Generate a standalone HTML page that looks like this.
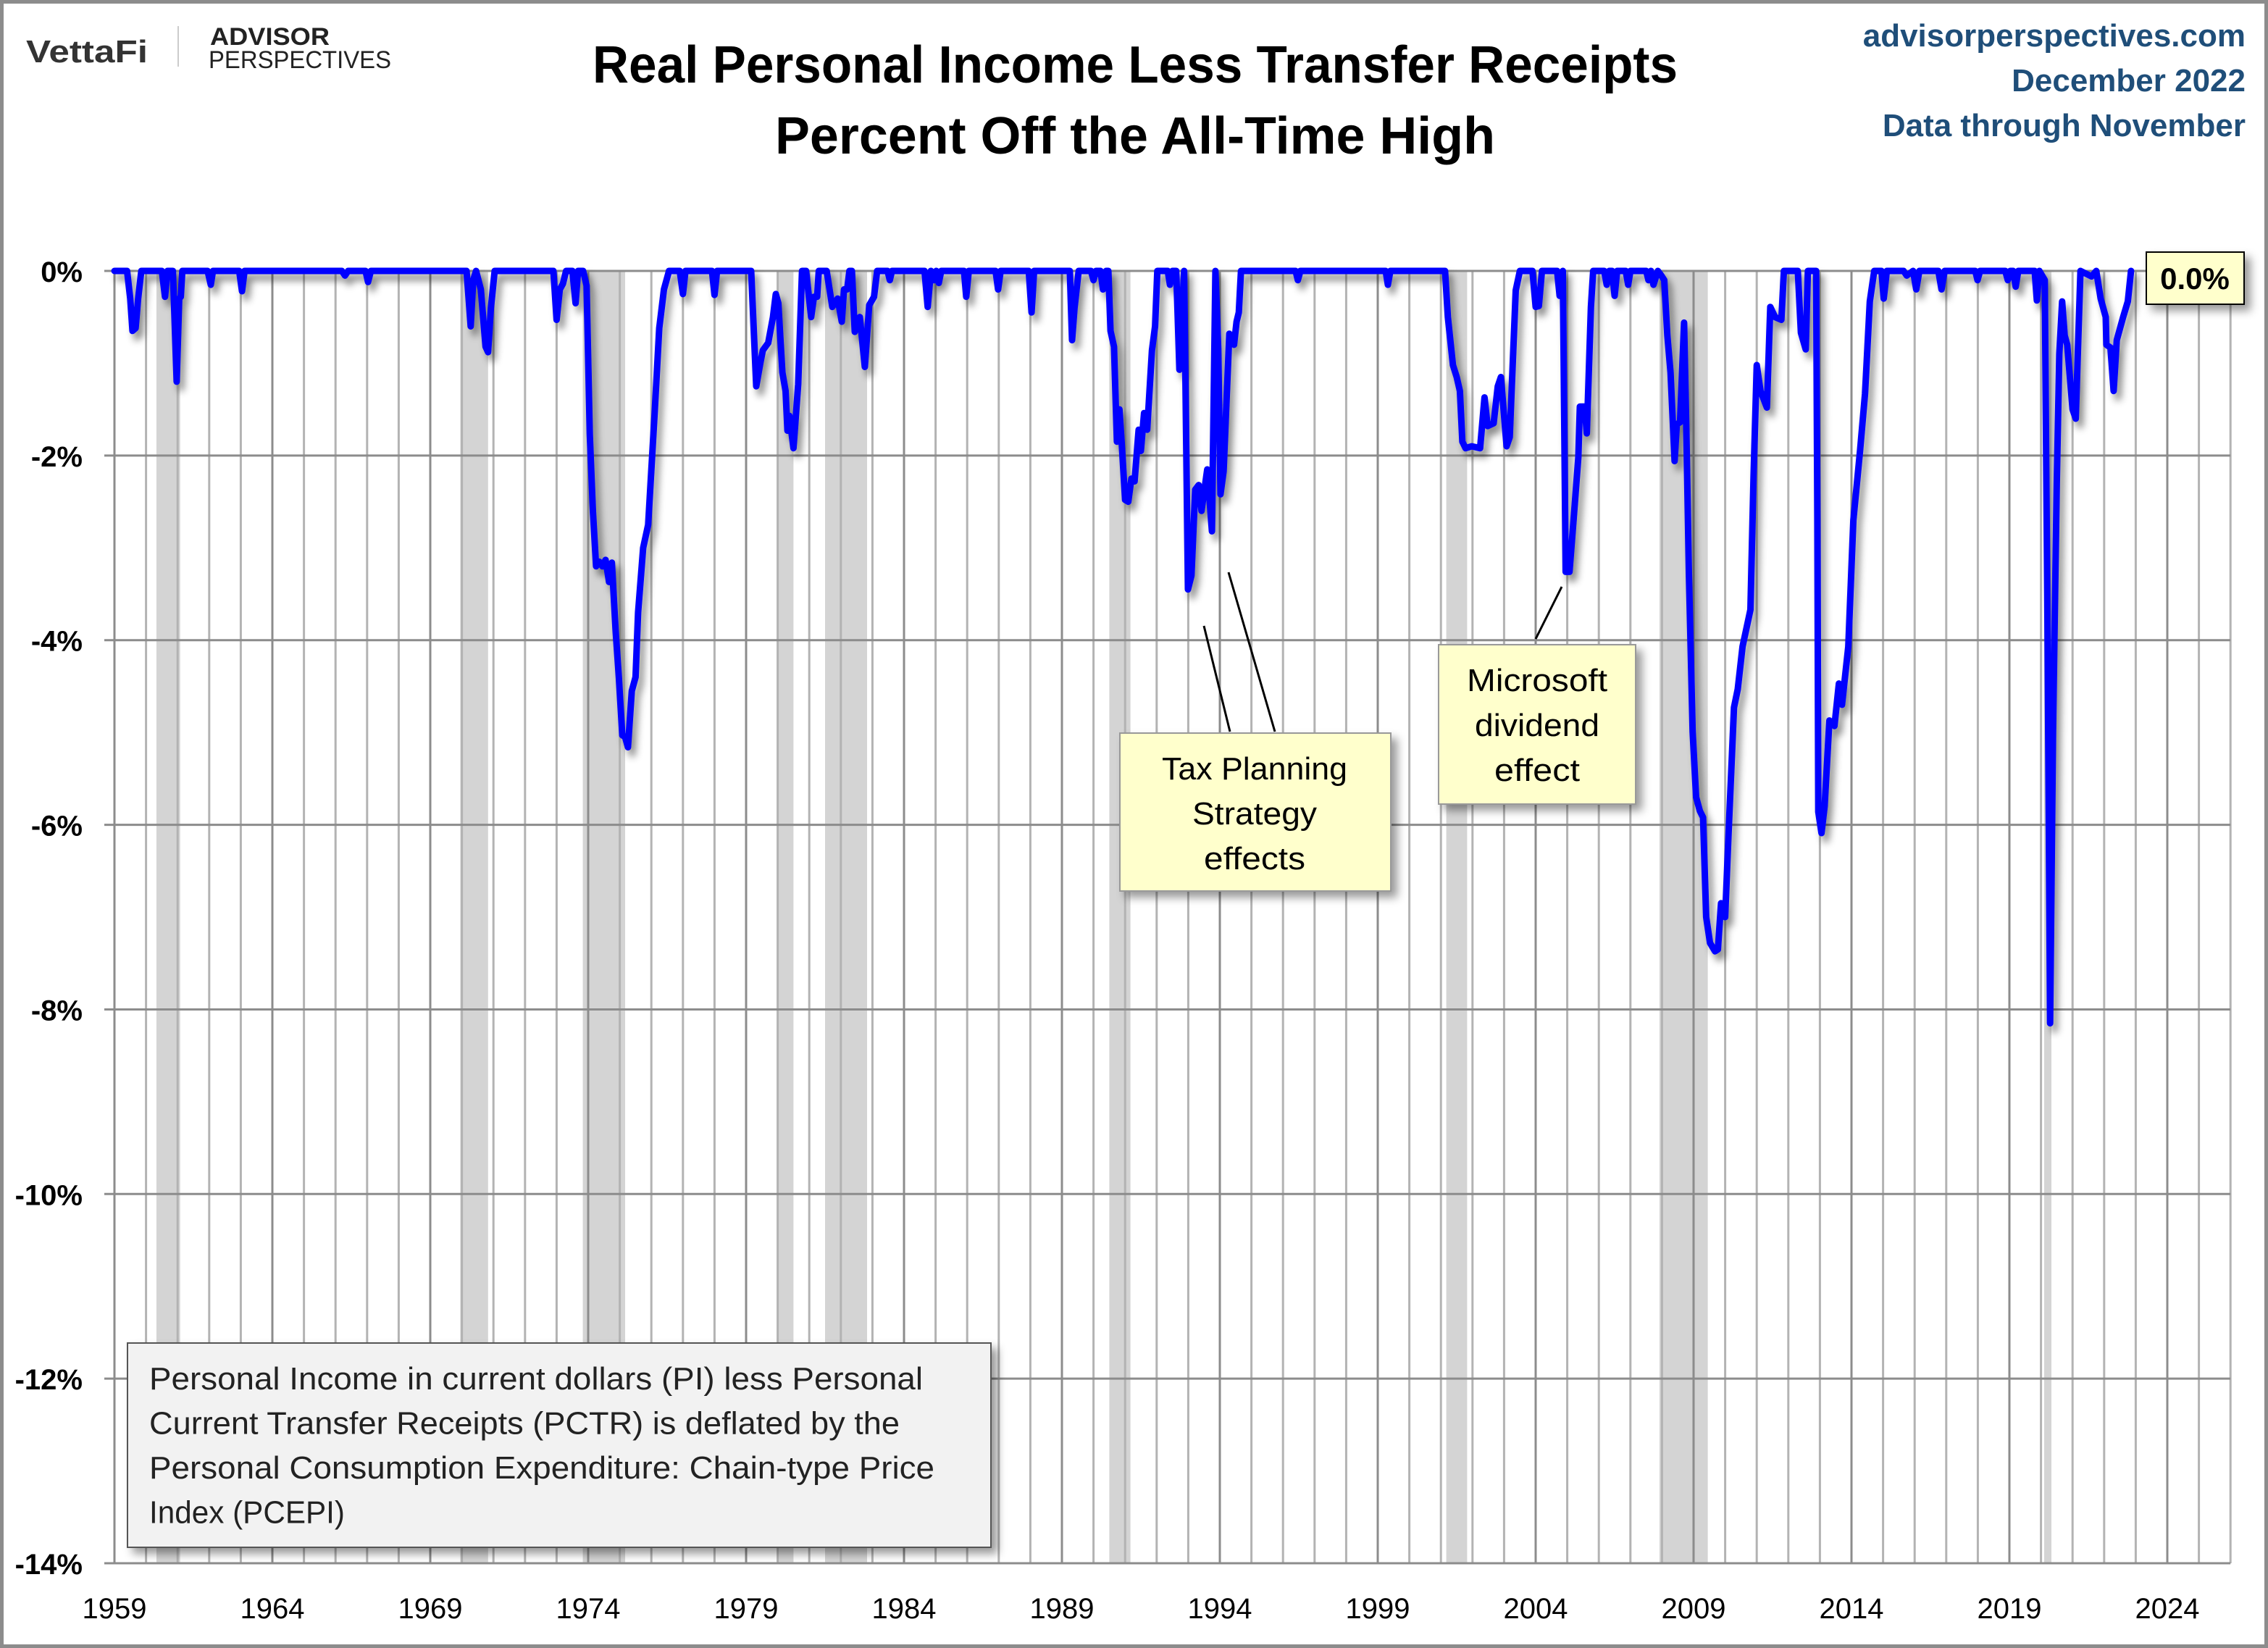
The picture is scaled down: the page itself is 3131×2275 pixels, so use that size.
<!DOCTYPE html>
<html><head><meta charset="utf-8"><style>
html,body{margin:0;padding:0;background:#fff}
svg{display:block}
text{font-family:"Liberation Sans",sans-serif}
</style></head><body>
<svg id="chart" width="3131" height="2275" viewBox="0 0 3131 2275" xmlns="http://www.w3.org/2000/svg">
<defs>
<filter id="sh" x="-10%" y="-10%" width="130%" height="130%"><feDropShadow dx="6" dy="9" stdDeviation="5" flood-color="#000" flood-opacity="0.45"/></filter>
<filter id="bsh" x="-10%" y="-10%" width="130%" height="140%"><feDropShadow dx="8" dy="8" stdDeviation="6" flood-color="#000" flood-opacity="0.4"/></filter>
</defs>
<rect x="2.5" y="2.5" width="3126" height="2270" fill="#fff" stroke="#8c8c8c" stroke-width="5"/>
<g id="plot"></g>
<g>
<text x="36" y="86" font-size="44" font-weight="bold" fill="#333" textLength="168" lengthAdjust="spacingAndGlyphs">VettaFi</text>
<line x1="246" y1="36" x2="246" y2="92" stroke="#ccc" stroke-width="2"/>
<text x="290" y="62" font-size="34" font-weight="bold" fill="#222" textLength="165" lengthAdjust="spacingAndGlyphs">ADVISOR</text>
<text x="288" y="94" font-size="34" fill="#222" textLength="252" lengthAdjust="spacingAndGlyphs">PERSPECTIVES</text>
</g>
<text x="818" y="114" font-size="72" font-weight="bold" fill="#000" textLength="1498" lengthAdjust="spacingAndGlyphs">Real Personal Income Less Transfer Receipts</text>
<text x="1070" y="212" font-size="72" font-weight="bold" fill="#000" textLength="994" lengthAdjust="spacingAndGlyphs">Percent Off the All-Time High</text>
<text x="3100" y="64" font-size="44" font-weight="bold" fill="#1f4e79" text-anchor="end">advisorperspectives.com</text>
<text x="3100" y="126" font-size="44" font-weight="bold" fill="#1f4e79" text-anchor="end">December 2022</text>
<text x="3100" y="188" font-size="44" font-weight="bold" fill="#1f4e79" text-anchor="end">Data through November</text>
</svg>
<script>
const years = [1959.0,1959.4,1959.5,1959.57,1959.67,1959.75,1959.85,1960.5,1960.6,1960.68,1960.85,1960.97,1961.05,1961.1,1961.15,1961.95,1962.05,1962.12,1962.95,1963.04,1963.12,1966.2,1966.3,1966.4,1966.95,1967.03,1967.12,1970.15,1970.28,1970.36,1970.45,1970.6,1970.75,1970.83,1970.92,1971.04,1972.9,1973.0,1973.1,1973.2,1973.3,1973.5,1973.6,1973.68,1973.84,1973.95,1974.05,1974.15,1974.25,1974.35,1974.45,1974.55,1974.66,1974.75,1974.87,1974.97,1975.08,1975.17,1975.26,1975.38,1975.5,1975.58,1975.74,1975.9,1976.1,1976.25,1976.4,1976.56,1976.9,1977.0,1977.08,1977.92,1978.0,1978.08,1979.16,1979.32,1979.45,1979.53,1979.7,1979.85,1979.94,1980.02,1980.15,1980.25,1980.31,1980.37,1980.5,1980.65,1980.77,1980.9,1981.06,1981.15,1981.25,1981.3,1981.55,1981.73,1981.9,1982.03,1982.1,1982.2,1982.27,1982.35,1982.44,1982.6,1982.76,1982.9,1983.05,1983.15,1983.48,1983.55,1983.62,1984.65,1984.75,1984.85,1984.95,1985.02,1985.1,1985.18,1985.9,1985.97,1986.05,1986.9,1986.98,1987.06,1987.95,1988.04,1988.12,1989.25,1989.32,1989.4,1989.53,1989.92,1990.0,1990.08,1990.22,1990.3,1990.4,1990.47,1990.54,1990.65,1990.74,1990.82,1990.9,1991.0,1991.1,1991.2,1991.3,1991.43,1991.5,1991.6,1991.7,1991.85,1991.95,1992.02,1992.35,1992.42,1992.5,1992.62,1992.72,1992.8,1992.87,1992.99,1993.1,1993.22,1993.33,1993.42,1993.6,1993.75,1993.86,1993.95,1994.02,1994.12,1994.3,1994.45,1994.53,1994.6,1994.67,1996.4,1996.47,1996.55,1999.25,1999.32,1999.4,2001.13,2001.22,2001.38,2001.5,2001.6,2001.68,2001.78,2001.98,2002.24,2002.38,2002.48,2002.67,2002.8,2002.9,2003.08,2003.18,2003.37,2003.5,2003.9,2004.0,2004.1,2004.2,2004.68,2004.76,2004.86,2004.95,2005.07,2005.2,2005.35,2005.4,2005.55,2005.62,2005.75,2005.82,2006.17,2006.25,2006.33,2006.42,2006.5,2006.58,2006.85,2006.93,2007.0,2007.5,2007.57,2007.65,2007.73,2007.87,2007.98,2008.07,2008.17,2008.27,2008.4,2008.47,2008.57,2008.7,2008.77,2008.85,2008.97,2009.08,2009.2,2009.3,2009.4,2009.52,2009.68,2009.77,2009.87,2010.0,2010.1,2010.28,2010.4,2010.55,2010.8,2010.9,2011.0,2011.12,2011.32,2011.43,2011.58,2011.78,2011.86,2012.3,2012.4,2012.55,2012.62,2012.88,2012.92,2012.95,2013.05,2013.15,2013.3,2013.46,2013.6,2013.7,2013.9,2014.06,2014.27,2014.43,2014.58,2014.72,2014.95,2015.02,2015.12,2015.65,2015.75,2015.95,2016.05,2016.15,2016.75,2016.85,2016.95,2017.92,2017.99,2018.07,2018.87,2018.95,2019.03,2019.12,2019.2,2019.28,2019.8,2019.87,2019.95,2020.12,2020.2,2020.29,2020.38,2020.5,2020.58,2020.67,2020.75,2020.83,2021.0,2021.1,2021.25,2021.6,2021.75,2021.89,2022.05,2022.07,2022.2,2022.3,2022.4,2022.6,2022.75,2022.85];
const values = [0,0,-0.3,-0.65,-0.62,-0.3,0,0,-0.28,0,0,-1.2,-0.3,-0.28,0,0,-0.15,0,0,-0.22,0,0,-0.05,0,0,-0.12,0,0,-0.6,-0.1,0,-0.2,-0.82,-0.88,-0.4,0,0,-0.53,-0.2,-0.14,0,0,-0.35,0,0,-0.16,-1.77,-2.6,-3.2,-3.15,-3.2,-3.13,-3.37,-3.16,-3.9,-4.4,-5.03,-5.05,-5.16,-4.55,-4.4,-3.7,-3.0,-2.75,-1.56,-0.62,-0.2,0,0,-0.25,0,0,-0.26,0,0,-1.25,-1.0,-0.86,-0.78,-0.5,-0.25,-0.35,-1.1,-1.3,-1.73,-1.57,-1.92,-1.23,0,0,-0.5,-0.28,-0.28,0,0,-0.39,-0.3,-0.55,-0.2,-0.2,0,0,-0.66,-0.5,-1.04,-0.37,-0.28,0,0,-0.1,0,0,-0.39,0,-0.1,0,-0.13,0,0,-0.28,0,0,-0.2,0,0,-0.45,0,0,-0.75,-0.4,0,0,-0.1,0,0,-0.2,0,0,-0.65,-0.82,-1.85,-1.5,-1.9,-2.48,-2.5,-2.25,-2.28,-1.72,-1.95,-1.54,-1.72,-0.86,-0.6,0,0,-0.15,0,0,-1.07,-0.47,0,-3.45,-3.3,-2.37,-2.32,-2.6,-2.15,-2.82,0,-0.85,-2.42,-2.17,-0.68,-0.8,-0.55,-0.45,0,0,-0.1,0,0,-0.15,0,0,-0.5,-1.02,-1.15,-1.3,-1.85,-1.92,-1.9,-1.92,-1.37,-1.68,-1.65,-1.25,-1.15,-1.9,-1.8,-0.21,0,0,-0.39,-0.38,0,0,-0.27,0,-3.26,-3.26,-2.7,-2.02,-1.47,-1.47,-1.76,-0.39,0,0,-0.15,0,0,-0.27,0,0,-0.15,0,0,-0.1,0,-0.15,0,-0.05,-0.1,-0.7,-1.1,-2.06,-1.66,-1.64,-0.56,-1.72,-3.27,-4.99,-5.7,-5.85,-5.92,-7.0,-7.28,-7.37,-7.35,-6.85,-7.0,-6.15,-4.73,-4.53,-4.07,-3.67,-2.23,-1.02,-1.3,-1.48,-0.39,-0.5,-0.53,0,0,-0.67,-0.85,0,0,-2.7,-5.86,-6.09,-5.8,-4.87,-4.93,-4.47,-4.7,-4.07,-2.7,-1.95,-1.33,-0.33,0,0,-0.3,0,0,-0.05,0,-0.2,0,0,-0.2,0,0,-0.1,0,0,-0.1,0,0,-0.17,0,0,-0.32,0,-0.1,-3.5,-8.15,-5.0,-2.3,-0.9,-0.33,-0.7,-0.8,-1.5,-1.6,0,-0.06,0,-0.3,-0.5,-0.8,-0.83,-1.3,-0.75,-0.5,-0.33,0];
const recessionStarts = [1960.33,1969.95,1973.83,1980.0,1981.5,1990.5,2001.17,2007.92,2020.1];
const recessionEnds = [1961.08,1970.83,1975.17,1980.5,1982.83,1991.17,2001.83,2009.45,2020.33];
const yTicks = [0,-2,-4,-6,-8,-10,-12,-14];
const xTickYears = [1959,1964,1969,1974,1979,1984,1989,1994,1999,2004,2009,2014,2019,2024];
const latestLabel = "0.0%";

const NS = "http://www.w3.org/2000/svg";
const X0 = 158, XPY = 43.6, Y0 = 374, YP = 127.43;
const xS = y => X0 + (y - 1959) * XPY;
const yS = v => Y0 - v * YP;
const plot = document.getElementById('plot');
const svg = document.getElementById('chart');
function mk(tag, attrs, parent) {
  const e = document.createElementNS(NS, tag);
  for (const k in attrs) e.setAttribute(k, attrs[k]);
  (parent || plot).appendChild(e);
  return e;
}
const PR = xS(2026), PB = yS(-14);
for (let i = 0; i < recessionStarts.length; i++) {
  const r = mk('rect', {x: xS(recessionStarts[i]), y: Y0, width: xS(recessionEnds[i]) - xS(recessionStarts[i]), height: PB - Y0, fill: '#d4d4d4'});
  
  
}
for (let yr = 1960; yr <= 2026; yr++) {
  const l = mk('line', {x1: xS(yr), x2: xS(yr), y1: Y0, y2: PB, stroke: (yr % 5 === 4) ? '#8c8c8c' : '#b3b3b3', 'stroke-width': 3});
  
  
}
yTicks.forEach(v => {
  const l = mk('line', {x1: X0 - 14, x2: PR, y1: yS(v), y2: yS(v), stroke: '#8c8c8c', 'stroke-width': 3});
  
  
  const t = mk('text', {x: 114, y: yS(v) + 15, 'font-size': 40, 'font-weight': 'bold', 'text-anchor': 'end', fill: '#000'});
  t.textContent = v + '%';
  
  
});
const ax = mk('line', {x1: X0, x2: X0, y1: Y0, y2: PB, stroke: '#8c8c8c', 'stroke-width': 3});


xTickYears.forEach(yr => {
  const t = mk('text', {x: xS(yr), y: 2234, 'font-size': 40, 'text-anchor': 'middle', fill: '#000'});
  t.textContent = yr;
  
  
});
let d = '';
for (let i = 0; i < years.length; i++) d += (i ? 'L' : 'M') + xS(years[i]).toFixed(1) + ' ' + yS(values[i]).toFixed(1);
const line = mk('path', {d: d, fill: 'none', stroke: '#0000ff', 'stroke-width': 9, 'stroke-linejoin': 'round', 'stroke-linecap': 'round', filter: 'url(#sh)'});



function box(x, y, w, h, fill, stroke, name) {
  const r = mk('rect', {x: x, y: y, width: w, height: h, fill: fill, stroke: stroke, 'stroke-width': 2, filter: 'url(#bsh)'}, svg);
  
  
}
function txt(x, y, s, size, anchor, name, extra) {
  const t = mk('text', Object.assign({x: x, y: y, 'font-size': size, 'text-anchor': anchor, fill: '#000'}, extra || {}), svg);
  t.textContent = s;
  t.setAttribute('xml:space', 'preserve');
  
  
}
function lead(x1, y1, x2, y2) {
  const l = mk('line', {x1: x1, y1: y1, x2: x2, y2: y2, stroke: '#000', 'stroke-width': 3}, svg);
  
  
}
lead(1698, 1010, 1662, 864);
lead(1760, 1010, 1696, 790);
lead(2120, 882, 2156, 810);
box(1546, 1012, 374, 218, '#ffffcc', '#999', 'tax-planning-annotation');
txt(1732, 1076, 'Tax Planning', 44, 'middle', 'tax-annotation-text', {textLength: 256, lengthAdjust: 'spacingAndGlyphs'});
txt(1732, 1138, 'Strategy', 44, 'middle', 'tax-annotation-text', {textLength: 172, lengthAdjust: 'spacingAndGlyphs'});
txt(1732, 1200, 'effects', 44, 'middle', 'tax-annotation-text', {textLength: 140, lengthAdjust: 'spacingAndGlyphs'});
box(1986, 890, 272, 220, '#ffffcc', '#999', 'microsoft-annotation');
txt(2122, 954, 'Microsoft', 44, 'middle', 'microsoft-annotation-text', {textLength: 194, lengthAdjust: 'spacingAndGlyphs'});
txt(2122, 1016, 'dividend', 44, 'middle', 'microsoft-annotation-text', {textLength: 172, lengthAdjust: 'spacingAndGlyphs'});
txt(2122, 1078, 'effect', 44, 'middle', 'microsoft-annotation-text', {textLength: 118, lengthAdjust: 'spacingAndGlyphs'});
box(176, 1854, 1192, 282, '#f2f2f2', '#555', 'methodology-note');
const notes = [['Personal Income in current dollars  (PI) less Personal', 1068], ['Current Transfer Receipts (PCTR) is deflated by the', 1036], ['Personal Consumption Expenditure: Chain-type Price', 1084], ['Index (PCEPI)', 270]];
notes.forEach((n, i) => txt(206, 1918 + i * 61.5, n[0], 44, 'start', 'methodology-note-text', {textLength: n[1], lengthAdjust: 'spacingAndGlyphs', fill: '#222'}));
box(2963, 348, 135, 72, '#ffffcc', '#000', 'latest-value-box');
txt(3030, 399, latestLabel, 42, 'middle', 'latest-value-label', {'font-weight': 'bold'});
</script>
</body></html>
